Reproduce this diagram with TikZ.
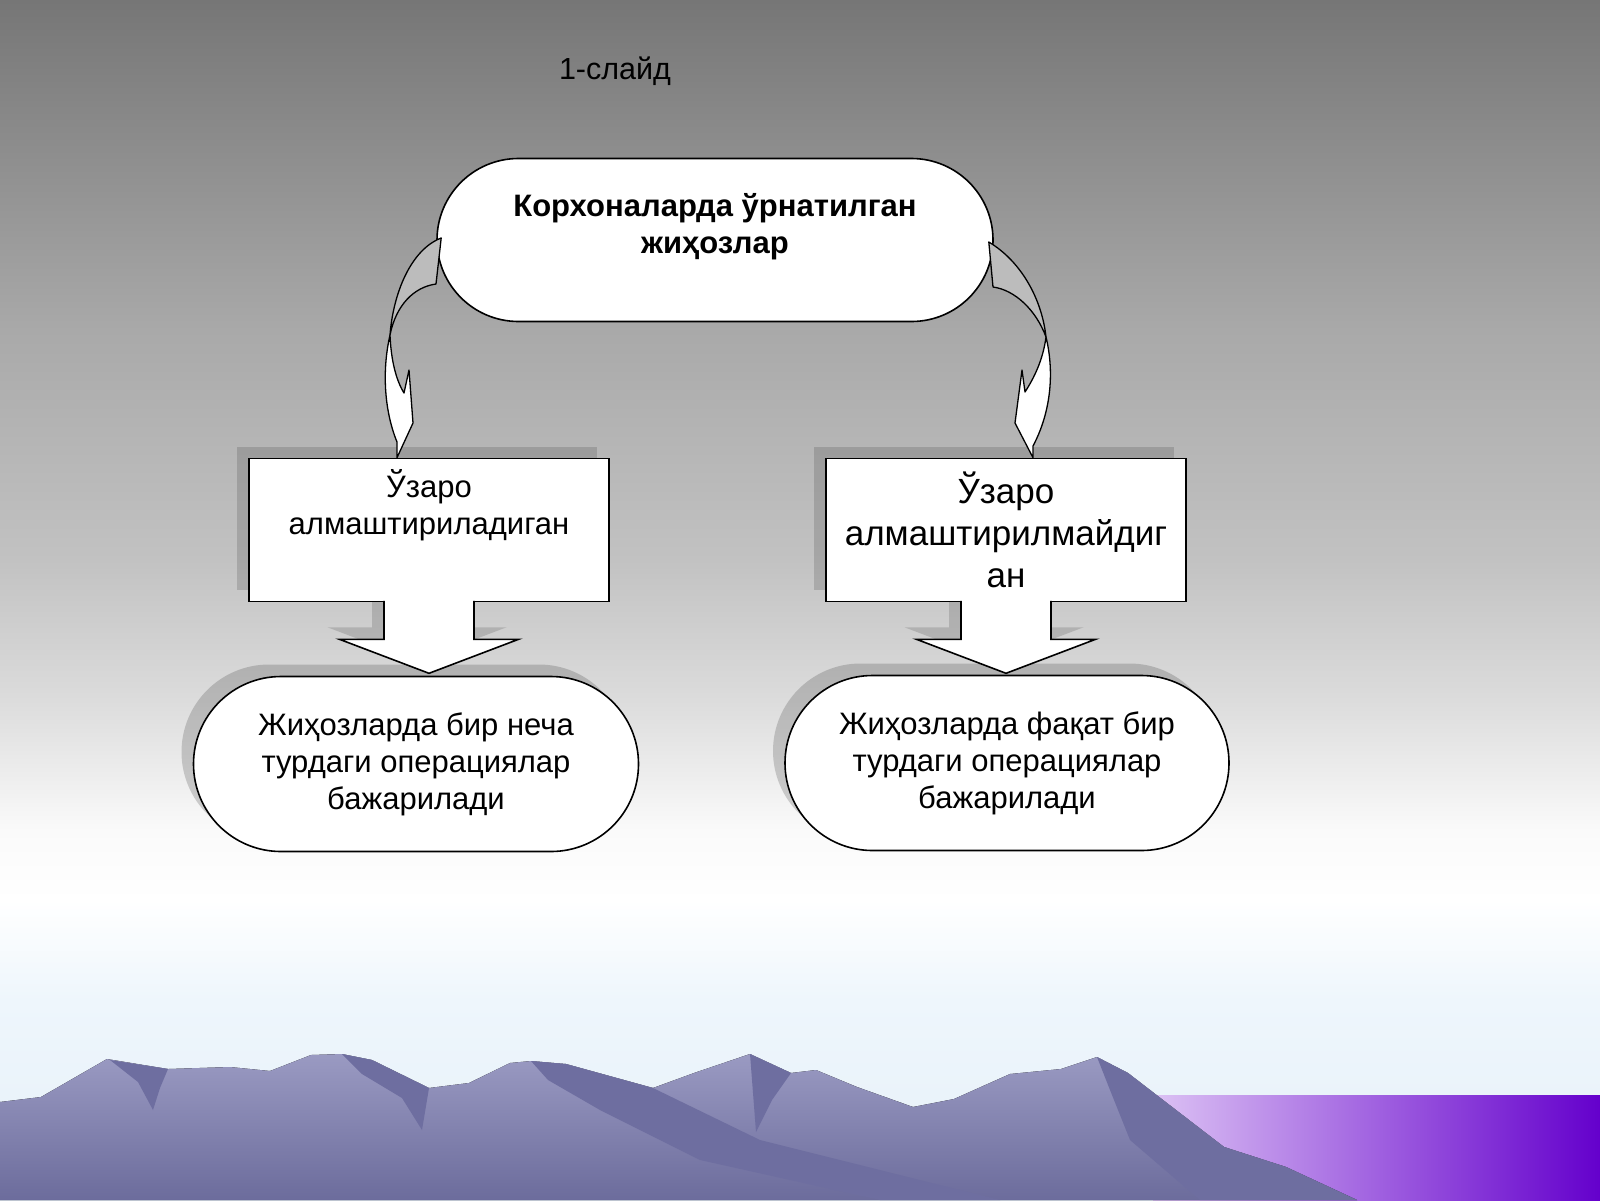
\documentclass[tikz,border=0pt]{standalone}
\usepackage{fontspec}
\setmainfont{Liberation Sans}
\usetikzlibrary{shapes.misc,shadows,positioning}
\pgfdeclarelayer{back}
\pgfsetlayers{back,main}
\definecolor{bgA}{HTML}{767676}
\definecolor{bgB}{HTML}{A9A9A9}
\definecolor{bgC}{HTML}{C2C2C2}
\definecolor{bgD}{HTML}{DCDCDC}
\definecolor{bgE}{HTML}{FAFAFA}
\definecolor{bgF}{HTML}{EEF6FC}
\definecolor{bgG}{HTML}{E6F0F8}
\definecolor{hillLight}{HTML}{9A9AC2}
\definecolor{hillDark}{HTML}{6C6C9C}
\definecolor{hillShade}{HTML}{6E6EA0}
\definecolor{violetLight}{HTML}{DCC2F4}
\definecolor{violetDark}{HTML}{6400CC}
\definecolor{backside}{HTML}{BCBCBC}
\begin{document}
\begin{tikzpicture}[x=1pt,y=-1pt,
    outline/.style={draw=black,line width=1.6pt,fill=white},
    pill/.style={outline,rounded rectangle,minimum width=#1,minimum height=175pt,inner sep=0pt},
    box/.style={outline,rectangle,minimum width=360pt,minimum height=143pt,inner sep=0pt},
    boxshadow/.style={drop shadow={shadow xshift=-12pt,shadow yshift=12pt,fill=black,opacity=.14}},
    pillshadow/.style={drop shadow={shadow xshift=-12pt,shadow yshift=12pt,fill=black,opacity=.17}},
    arrowshadow/.style={fill=black,opacity=.14},
    blockarrow/.style={draw=black,line width=1.6pt,fill=white},
    twist/.style={draw=black,line width=1.3pt,fill=#1,line join=round},
    txt/.style={align=center,font=\fontsize{31}{37}\selectfont},
    bigtxt/.style={align=center,font=\fontsize{35}{42}\selectfont},
    boldtxt/.style={align=center,font=\fontsize{31}{37}\selectfont\bfseries}]
  \useasboundingbox (0,0) rectangle (1600,1200);
  \begin{pgfonlayer}{back}
  % background
  \fill[top color=bgA,bottom color=bgB] (0,0) rectangle (1600,330.5);
  \fill[top color=bgB,bottom color=bgC] (0,330) rectangle (1600,560.5);
  \fill[top color=bgC,bottom color=bgD] (0,560) rectangle (1600,700.5);
  \fill[top color=bgD,bottom color=bgE] (0,700) rectangle (1600,830.5);
  \fill[top color=bgE,bottom color=white] (0,830) rectangle (1600,900.5);
  \fill[top color=white,bottom color=bgF] (0,900) rectangle (1600,1000.5);
  \fill[top color=bgF,bottom color=bgG] (0,1000) rectangle (1600,1200);
  % mountains
  \fill[left color=violetLight,right color=violetDark] (1153,1095) rectangle (1600,1200);
  \fill[top color=hillLight,bottom color=hillDark]
    (0,1102) -- (41,1097) -- (107,1059) -- (168,1069) -- (230,1067) -- (270,1071)
    -- (311,1055) -- (342,1054) -- (372,1060) -- (429,1088) -- (469,1083)
    -- (510,1063) -- (531,1061) -- (566,1064) -- (653,1088) -- (694,1073)
    -- (750,1054) -- (791,1073) -- (816,1070) -- (857,1087) -- (913,1107)
    -- (954,1099) -- (1010,1074) -- (1061,1069) -- (1097,1057) -- (1128,1073)
    -- (1163,1100) -- (1224,1147) -- (1286,1167) -- (1357,1200) -- (0,1200) -- cycle;
  \fill[hillShade] (110,1060) -- (168,1069) -- (160,1088) -- (153,1110) -- (138,1082) -- cycle;
  \fill[hillShade] (342,1054) -- (372,1060) -- (429,1088) -- (422,1130) -- (402,1098) -- (362,1074) -- cycle;
  \fill[hillShade] (531,1061) -- (566,1064) -- (653,1088) -- (760,1140) -- (1000,1200)
    -- (880,1200) -- (700,1160) -- (600,1110) -- (548,1080) -- cycle;
  \fill[hillShade] (750,1054) -- (791,1073) -- (772,1100) -- (756,1132) -- cycle;
  \fill[hillShade] (1097,1057) -- (1128,1073) -- (1163,1100) -- (1224,1147) -- (1286,1167)
    -- (1357,1200) -- (1200,1200) -- (1130,1140) -- (1110,1090) -- cycle;
  \end{pgfonlayer}
  % title
  \node(Slide) at (615,71) [font=\fontsize{30.5}{36}\selectfont] {1-слайд};
  % shapes
  \node(Top) at (715,240) [pill=556pt,minimum height=163pt] {};
  \node(TopText) at (715,227) [boldtxt] {Корхоналарда ўрнатилган\\жиҳозлар};
  \node(LeftBox) at (429,530) [box,boxshadow] {};
  \node(LeftBoxText) [txt,below=8pt of LeftBox.north] {Ўзаро\\алмаштириладиган};
  \node(RightBox) at (1006,530) [box,boxshadow,bigtxt] {Ўзаро\\алмаштирилмайдиг\\ан};
  \node(LeftPill) at (416,764) [pill=445pt,pillshadow,txt] {Жиҳозларда бир неча\\турдаги операциялар\\бажарилади};
  \node(RightPill) at (1007,763) [pill=444pt,pillshadow,txt] {Жиҳозларда фақат бир\\турдаги операциялар\\бажарилади};
  % block arrows
  \begin{pgfonlayer}{back}
  \fill[arrowshadow] ([xshift=-57pt,yshift=12pt]LeftBox.south) -- ++(0,37) -- ++(-44.5,0)
    -- ++(89.5,34) -- ++(89.5,-34) -- ++(-44.5,0) -- ++(0,-37) -- cycle;
  \fill[arrowshadow] ([xshift=-57pt,yshift=12pt]RightBox.south) -- ++(0,37) -- ++(-44.5,0)
    -- ++(89.5,34) -- ++(89.5,-34) -- ++(-44.5,0) -- ++(0,-37) -- cycle;
  \end{pgfonlayer}
  \path[blockarrow] ([xshift=-45pt,yshift=1.5pt]LeftBox.south) -- ++(0,38.5) -- ++(-44.5,0)
    -- ++(89.5,34) -- ++(89.5,-34) -- ++(-44.5,0) -- ++(0,-38.5);
  \path[blockarrow] ([xshift=-45pt,yshift=1.5pt]RightBox.south) -- ++(0,38.5) -- ++(-44.5,0)
    -- ++(89.5,34) -- ++(89.5,-34) -- ++(-44.5,0) -- ++(0,-38.5);
  % curved arrows
  \draw[twist=backside] ([xshift=5pt,yshift=2pt]Top.west) .. controls (410,250) and (393,295) .. (390,335)
    .. controls (396,305) and (414,287) .. (436,284) -- cycle;
  \draw[twist=white] (390,335) .. controls (382,370) and (384,410) .. (397,442)
    -- ([xshift=-32pt]LeftBox.north) -- (413,423) -- (409,370) -- (404,393)
    .. controls (396,380) and (391,360) .. (390,335) -- cycle;
  \draw[twist=backside] ([xshift=-5pt,yshift=-2pt]Top.east) .. controls (1022,262) and (1042,300) .. (1046,337)
    .. controls (1036,310) and (1015,290) .. (993,287) -- cycle;
  \draw[twist=white] (1046,337) .. controls (1054,370) and (1052,410) .. (1033,446)
    -- ([xshift=27pt]RightBox.north) -- (1015,423) -- (1022,370) -- (1025,392)
    .. controls (1034,378) and (1043,360) .. (1046,337) -- cycle;
\end{tikzpicture}
\end{document}
